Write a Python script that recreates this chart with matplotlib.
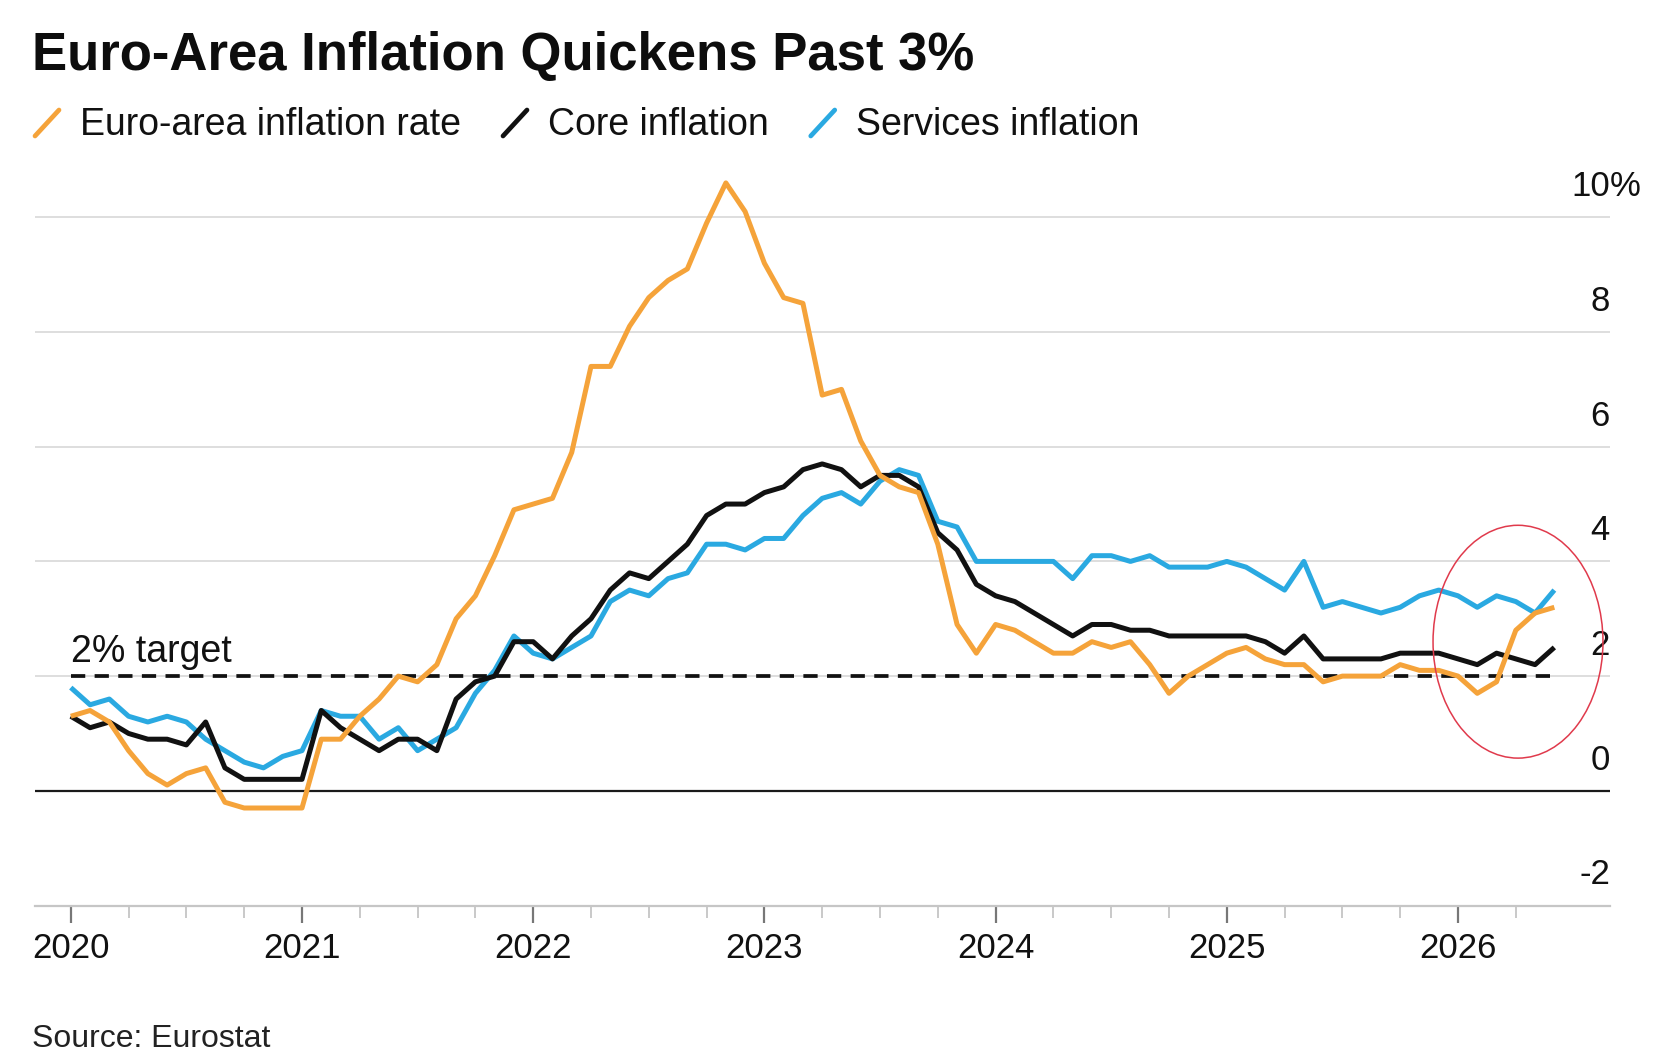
import matplotlib.pyplot as plt
from matplotlib.patches import Ellipse
from matplotlib.lines import Line2D

plt.rcParams['font.family'] = ['Liberation Sans', 'DejaVu Sans']

# monthly readings, first point plotted at the 2020 tick
headline = [1.3,
            1.4, 1.2, 0.7, 0.3, 0.1, 0.3, 0.4, -0.2, -0.3, -0.3, -0.3, -0.3,
            0.9, 0.9, 1.3, 1.6, 2.0, 1.9, 2.2, 3.0, 3.4, 4.1, 4.9, 5.0,
            5.1, 5.9, 7.4, 7.4, 8.1, 8.6, 8.9, 9.1, 9.9, 10.6, 10.1, 9.2,
            8.6, 8.5, 6.9, 7.0, 6.1, 5.5, 5.3, 5.2, 4.3, 2.9, 2.4, 2.9,
            2.8, 2.6, 2.4, 2.4, 2.6, 2.5, 2.6, 2.2, 1.7, 2.0, 2.2, 2.4,
            2.5, 2.3, 2.2, 2.2, 1.9, 2.0, 2.0, 2.0, 2.2, 2.1, 2.1, 2.0,
            1.7, 1.9, 2.8, 3.1, 3.2]
core = [1.3,
        1.1, 1.2, 1.0, 0.9, 0.9, 0.8, 1.2, 0.4, 0.2, 0.2, 0.2, 0.2,
        1.4, 1.1, 0.9, 0.7, 0.9, 0.9, 0.7, 1.6, 1.9, 2.0, 2.6, 2.6,
        2.3, 2.7, 3.0, 3.5, 3.8, 3.7, 4.0, 4.3, 4.8, 5.0, 5.0, 5.2,
        5.3, 5.6, 5.7, 5.6, 5.3, 5.5, 5.5, 5.3, 4.5, 4.2, 3.6, 3.4,
        3.3, 3.1, 2.9, 2.7, 2.9, 2.9, 2.8, 2.8, 2.7, 2.7, 2.7, 2.7,
        2.7, 2.6, 2.4, 2.7, 2.3, 2.3, 2.3, 2.3, 2.4, 2.4, 2.4, 2.3,
        2.2, 2.4, 2.3, 2.2, 2.5]
services = [1.8,
            1.5, 1.6, 1.3, 1.2, 1.3, 1.2, 0.9, 0.7, 0.5, 0.4, 0.6, 0.7,
            1.4, 1.3, 1.3, 0.9, 1.1, 0.7, 0.9, 1.1, 1.7, 2.1, 2.7, 2.4,
            2.3, 2.5, 2.7, 3.3, 3.5, 3.4, 3.7, 3.8, 4.3, 4.3, 4.2, 4.4,
            4.4, 4.8, 5.1, 5.2, 5.0, 5.4, 5.6, 5.5, 4.7, 4.6, 4.0, 4.0,
            4.0, 4.0, 4.0, 3.7, 4.1, 4.1, 4.0, 4.1, 3.9, 3.9, 3.9, 4.0,
            3.9, 3.7, 3.5, 4.0, 3.2, 3.3, 3.2, 3.1, 3.2, 3.4, 3.5, 3.4,
            3.2, 3.4, 3.3, 3.1, 3.5]
months = [2020 + i / 12 for i in range(len(headline))]

labels = ['Euro-area inflation rate', 'Core inflation', 'Services inflation']
colors = ['#F5A33A', '#111111', '#2AA9E1']
years = [2020, 2021, 2022, 2023, 2024, 2025, 2026]
quarters = [y + q / 4 for y in years for q in (1, 2, 3) if y + q / 4 < months[-1]]
y_ticks = [-2, 0, 2, 4, 6, 8, 10]
target = 2

W, H = 1658, 1060
fig = plt.figure(figsize=(W / 100, H / 100), dpi=100)
ax = fig.add_axes([35 / W, 154.5 / H, 1575 / W, 774.2 / H])
ax.set_xlim(2019.8452, 2026.6574)
ax.set_ylim(-2, 11.5)
ax.patch.set_visible(False)

for s in ['top', 'left', 'right']:
    ax.spines[s].set_visible(False)
ax.spines['bottom'].set_color('#c6c6c6')
ax.spines['bottom'].set_linewidth(1.6)

for v in y_ticks[2:]:
    ax.axhline(v, color='#d8d8d8', lw=1.2, zorder=1)
ax.axhline(0, color='#1a1a1a', lw=1.6, zorder=1)

ax.set_yticks([])
ax.set_xticks(years)
ax.set_xticks(quarters, minor=True)
ax.tick_params(axis='x', which='major', length=12, width=1.6, color='#777777', labelbottom=False)
ax.tick_params(axis='x', which='minor', length=8.5, width=1.1, color='#bbbbbb')

# target line
ax.plot([months[0], months[-1]], [target, target], color='#111111', lw=2.7,
        ls=(0, (3.8, 2.5)), zorder=2)
ax.annotate('2% target', xy=(months[0], target), xytext=(0, 14), textcoords='offset pixels',
            ha='left', va='baseline', fontsize=27, color='#111111')

zs = [5, 4, 3]
for vals, col, z in zip([headline, core, services], colors, zs):
    ax.plot(months, vals, color=col, lw=3.6, solid_joinstyle='round', solid_capstyle='butt', zorder=z)

# y labels on the right, sitting above gridlines
for v in y_ticks:
    ax.annotate(str(v), xy=(1, v), xycoords=('axes fraction', 'data'), xytext=(0, 21),
                textcoords='offset pixels', ha='right', va='baseline', fontsize=25, color='#111111')
ax.annotate('%', xy=(1, 10), xycoords=('axes fraction', 'data'), xytext=(0, 21),
            textcoords='offset pixels', ha='left', va='baseline', fontsize=25, color='#111111')

for y in years:
    ax.annotate(str(y), xy=(y, -2), xytext=(0, -52), textcoords='offset pixels',
                ha='center', va='baseline', fontsize=25, color='#111111', annotation_clip=False)

ax.add_patch(Ellipse((2026.2595, 2.6), width=0.735, height=4.06, fill=False,
                     edgecolor='#E03A4C', lw=1.1, clip_on=False, zorder=6))

# title, legend, source
fig.text(32 / W, 1 - 70 / H, 'Euro-Area Inflation Quickens Past 3%', fontsize=38,
         fontweight='bold', ha='left', va='baseline', color='#0d0d0d')

renderer = fig.canvas.get_renderer()
x = 35
for lab, col in zip(labels, colors):
    fig.add_artist(Line2D([x / W, (x + 24) / W], [1 - 136 / H, 1 - 110 / H], color=col,
                          lw=3.4, solid_capstyle='round'))
    t = fig.text((x + 45) / W, 1 - 135 / H, lab, fontsize=27, ha='left', va='baseline',
                 color='#111111')
    x = t.get_window_extent(renderer).x1 + 42

fig.text(32 / W, 1 - 1047 / H, 'Source: Eurostat', fontsize=23, ha='left', va='baseline',
         color='#222222')

fig.savefig('out.png', dpi=100)
